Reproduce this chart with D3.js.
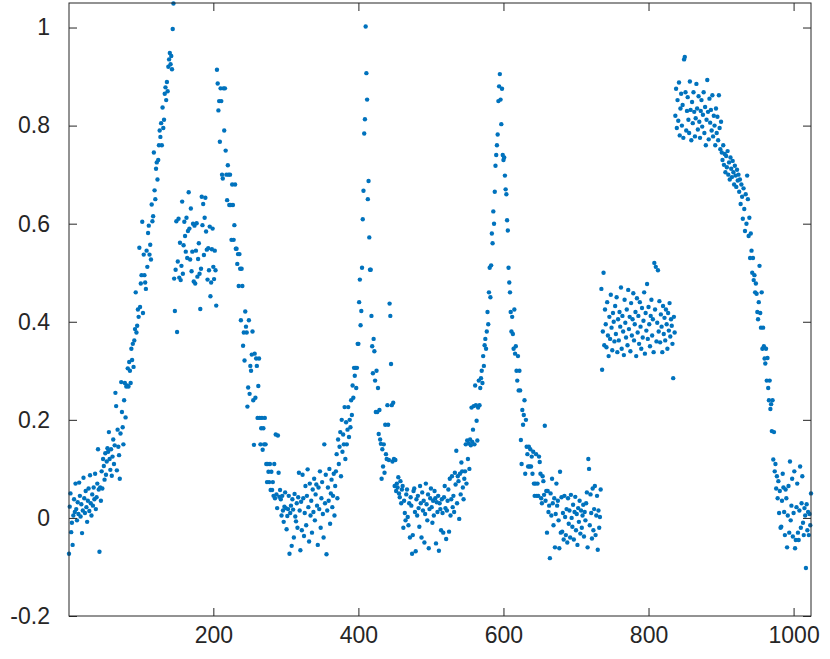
<!DOCTYPE html>
<html lang="en">
<head>
  <meta charset="UTF-8">
  <title>Signal samples</title>
  <script src="https://d3js.org/d3.v7.min.js"></script>
  <style>
    body { margin: 0; background: #fff; }
    text { font-family: "Liberation Sans", Arial, sans-serif; }
  </style>
</head>
<body>
  <svg width="830" height="659"></svg>
  <script>
    // tick labels
    const xTicks = [200, 400, 600, 800, 1000];
    const yTicks = [-0.2, 0, 0.2, 0.4, 0.6, 0.8, 1];

    // sample values (x 1000), sample 1 .. 1024 in order
    const segFlat1 = [
      -73, 23, 50, -29, -10, -55, 5, 38, 12, 70,
      18, -5, 32, 8, 72, 45, 3, 28, -31, 15,
      82, 40, 10, 55, 22, -8, 35, 60, 14, 87,
      30, 5, 48, 25, 62, 38, 90, 18, 42, 70,
      140, 58, -69, 62, 35];
    const segRise1 = [
      95, 60, 120, 106, 78, 132, 88, 115, 142, 135,
      175, 120, 98, 140, 86, 125, 160, 110, 148, 255,
      228, 97, 180, 145, 128, 80, 172, 277, 216, 185,
      150, 240, 275, 205, 268,
      270, 305, 268, 318, 300, 275, 345, 322, 355, 308,
      362, 385, 460, 378, 392, 425, 410, 551, 430, 478,
      495, 604, 418, 537, 495, 480, 467, 545, 512, 581,
      596, 537, 557, 527, 639, 605, 615, 745, 668, 650,
      712, 725, 690, 730, 760, 790, 777, 805, 760, 837,
      795, 812, 865, 878, 852, 889, 870, 920, 935, 948,
      925, 942, 915, 997, 1049];
    const segBlock1 = [
      488, 422, 506, 605, 379, 523, 610, 490, 561, 485,
      514, 645, 498, 556, 604, 575, 543, 612, 530, 585,
      664, 590, 527, 631, 503, 543, 600, 482, 596, 478,
      545, 601, 492, 528, 560, 498, 426, 508, 655, 597,
      640, 536, 612, 653, 584, 547, 486, 550, 505, 594,
      452, 480, 548, 590, 512, 487, 545, 505, 433];
    const segFall1 = [
      914, 886, 831, 850, 767, 876, 850, 700, 692, 876,
      790, 876, 749, 700, 648, 719, 700, 638, 700, 638,
      567, 680, 638, 567, 597, 680, 549, 549, 518, 538,
      473, 538, 508, 403, 508, 473, 351, 378, 321, 421,
      390, 378, 227, 266, 403, 253, 310, 300, 333, 380,
      240, 149, 335, 245, 325, 310, 204, 269, 325, 204,
      150, 183, 204, 139, 183, 150, 204, 150, 110, 73,
      110, 94, 73, 110, 57, 94, 57, 73, 45, 110,
      40];
    const segFlat2 = [
      170, 48, 20, 168, 92, 43, 57, 38, 5, 45,
      15, -8, 23, 52, 20, -23, 4, 18, 45, -73,
      10, 25, -57, 38, 17, -40, 49, 3, -7, 30,
      -20, 42, 92, 15, -66, 33, -25, 88, 40, -37,
      10, 65, -15, 45, 99, 22, -48, 70, 5, 35,
      -30, 58, 12, 80, -5, 48, 68, 25, -55, 62,
      18, 95, -20, 40, 73, 8, -40, 150, 30, 88,
      -74, 15, 62, 35, 100, -12, 50, 78, 22, 45,
      90, 5, 65];
    const segSpike = [
      95, 130, 40, 160, 110, 145, 175, 85, 200, 135,
      170, 150, 226, 120, 195, 150, 180, 226, 165, 200,
      185, 240, 210, 270, 245, 306, 290, 306, 265, 306,
      355, 355, 440, 486, 393, 422, 510, 609, 667, 784,
      813, 1002,
      907, 853, 650, 687, 572, 506, 506, 412, 350, 295,
      365, 340, 280, 216, 300, 216, 265, 171, 220, 160,
      151, 80, 140, 105, 150, 92, 190, 130, 120, 230,
      190, 118, 437, 412, 314, 230, 115, 235, 120, 65,
      118, 55, 70, 62, 83, 50];
    const segFlat3 = [
      42, 75, 30, 58,
      65, -20, 35, 10, -5, 48, 58, 2, -15, 30,
      -40, 42, 25, -73, -35, 55, 60, 12, -68, 38,
      5, 45, 20, -18, 65, 30, -40, 52, 15, 35,
      -50, 8, 70, 28, -5, 48, -62, 18, 40, 60,
      22, -10, 35, 5, 55, 40, -52, 32, 12, 45,
      -67, 30, 18, -25, 38, 10, -30, 42, 65, 20,
      -43, 15, 35, 58, -28, 80, 5, 38, 85, 22,
      45, 12, 92, 68, 137, 30, 85, 75, -2, 90,
      48, 113, 95, 62, 38, 80];
    const segPeak2 = [
      95, 150, 70, 158, 120, 152, 100, 160, 148, 225,
      155, 180, 228, 150, 270, 230, 198, 158, 225, 280,
      230, 265, 285, 300, 275, 330, 310, 352, 365, 345,
      380, 420, 395, 460, 510, 450, 515, 580, 560, 625,
      600, 665, 718, 740, 760, 782, 850, 880, 905,
      853, 803, 875, 740, 730, 735, 698, 670, 660, 607,
      586, 510, 480, 460, 420, 380, 410, 375, 345, 425,
      335, 350, 300, 280, 330, 260, 300, 260, 159, 110,
      220, 190, 210, 240, 90, 200, 145, 130, 105, 145,
      105, 140, 105, 125, 90, 135, 70, 45, 70, 130,
      45, 70, 45, 125, 114, 90, 40, 30, 85, 75,
      47, 188, 35, 55, -30];
    const segFlat4 = [
      55, 12, 25, -82, 50, 5, 80, 30, -15, 40,
      -60, 8, 70, 25, 35, -5, -62, 94, -30, 42,
      -28, 10, -44, 45, 2, -35, 18, -50, 40, -12,
      15, -40, 47, 0, -18, 27, -44, 12, 43, -25,
      8, -55, 20, -8, 35, -32, 15, -20, 5, 27,
      -38, 12, -5, 30, 52, -60, 120, 100, -15, 48,
      10, -42, 60, -25, 18, 65, -35, 5, 45, -65,
      15, -20, 2, 58];
    const segBlock2 = [
      467, 302, 380, 500, 352, 425, 395, 348, 440, 372,
      330, 410, 365, 455, 388, 342, 418, 400, 360, 432,
      375, 450, 338, 405, 362, 420, 390, 470, 345, 412,
      380, 332, 445, 398, 368, 425, 352, 465, 385, 410,
      340, 438, 372, 405, 458, 362, 395, 420, 330, 448,
      378, 412, 355, 440, 390, 345, 428, 368, 402, 460,
      335, 418, 382, 477, 365, 430, 395, 350, 412, 445,
      372, 405, 338, 520, 425, 512, 360, 398, 505, 380,
      442, 358, 415, 390, 338, 432, 375, 408, 362, 425,
      395, 345, 418, 382, 438, 370, 405, 392, 355, 285,
      410, 378];
    const segBlock3 = [
      820, 875, 795, 852, 810, 888, 780, 835, 865, 800,
      842, 775, 935, 940, 868, 790, 830, 858, 812, 785,
      890, 832, 770, 848, 805, 868, 828, 778, 815, 885,
      835, 792, 860, 808, 775, 830, 852, 798, 822, 868,
      785, 838, 760, 812, 893, 828, 772, 855, 806, 832,
      790, 862, 778, 820, 800, 760, 835, 785, 818, 770,
      862, 795, 752, 808];
    const segFall2 = [
      745, 730, 760, 720, 742, 705, 738, 715, 748, 700,
      725, 690, 735, 712, 695, 728, 705, 680, 718, 698,
      675, 710, 688, 700, 665, 690, 640, 680, 655, 610,
      672, 630, 585, 660, 600, 698, 650, 575, 612, 530,
      580, 545, 500, 530, 485, 495, 460, 478, 457, 420,
      405, 440, 514, 418, 388, 460, 345, 388, 350, 325,
      315, 345, 280, 326, 265, 240, 280, 222, 232, 177,
      240, 119, 175, 95, 110, 60, 85, 40, 75, 10];
    const segFlat5 = [
      55, -20, -18, 35, 90, 62, 12, -35, 58, 40,
      -60, 5, 65, -30, 115, -5, 25, 80, -38, 10,
      95, -62, -45, 22, 70, -30, -45, 15, 105, -20,
      30, 85, -10, -35, 20, 5, -102, 28, -25, 12,
      -35, 8, -15, 50];

    const yValues = [].concat(segFlat1, segRise1, segBlock1, segFall1, segFlat2,
      segSpike, segFlat3, segPeak2, segFlat4, segBlock2, segBlock3, segFall2, segFlat5);
    const points = yValues.map((v, i) => ({x: i + 1, y: v / 1000}));

    const svg = d3.select("svg"),
          margin = {top: 3, right: 19, bottom: 43, left: 69},
          width = +svg.attr("width") - margin.left - margin.right,
          height = +svg.attr("height") - margin.top - margin.bottom,
          g = svg.append("g").attr("transform", `translate(${margin.left},${margin.top})`);

    const x = d3.scaleLinear().domain([1, points.length]).range([0, width]);
    const y = d3.scaleLinear().domain([-0.2, 1.05]).range([height, 0]);

    const axisColor = "#262626";
    const tickLen = 8;

    // points first, frame on top
    g.append("g")
      .selectAll("circle")
      .data(points)
      .enter()
      .append("circle")
      .attr("cx", d => x(d.x))
      .attr("cy", d => y(d.y))
      .attr("r", 2.2)
      .attr("fill", "#0072BD");

    const fmtY = d => d === 0 ? "0" : String(d);

    const xAxis = g.append("g")
      .attr("transform", `translate(0,${height})`)
      .call(d3.axisBottom(x).tickValues(xTicks).tickSizeInner(-tickLen).tickSizeOuter(0)
        .tickPadding(11).tickFormat(d3.format("d")));
    const xTop = g.append("g")
      .call(d3.axisTop(x).tickValues(xTicks).tickSizeInner(-tickLen).tickSizeOuter(0).tickFormat(""));
    const yAxis = g.append("g")
      .call(d3.axisLeft(y).tickValues(yTicks).tickSizeInner(-tickLen).tickSizeOuter(0)
        .tickPadding(19).tickFormat(fmtY));
    const yRight = g.append("g")
      .attr("transform", `translate(${width},0)`)
      .call(d3.axisRight(y).tickValues(yTicks).tickSizeInner(-tickLen).tickSizeOuter(0).tickFormat(""));

    [xAxis, xTop, yAxis, yRight].forEach(a => {
      a.select(".domain").remove();
      a.selectAll("line").attr("stroke", axisColor).attr("stroke-width", 1);
      a.selectAll("text").attr("fill", axisColor).attr("font-size", 23)
        .attr("font-family", "'Liberation Sans', Arial, sans-serif");
    });

    g.append("rect")
      .attr("x", 0).attr("y", 0)
      .attr("width", width).attr("height", height)
      .attr("fill", "none")
      .attr("stroke", axisColor)
      .attr("stroke-width", 1);
  </script>
</body>
</html>
